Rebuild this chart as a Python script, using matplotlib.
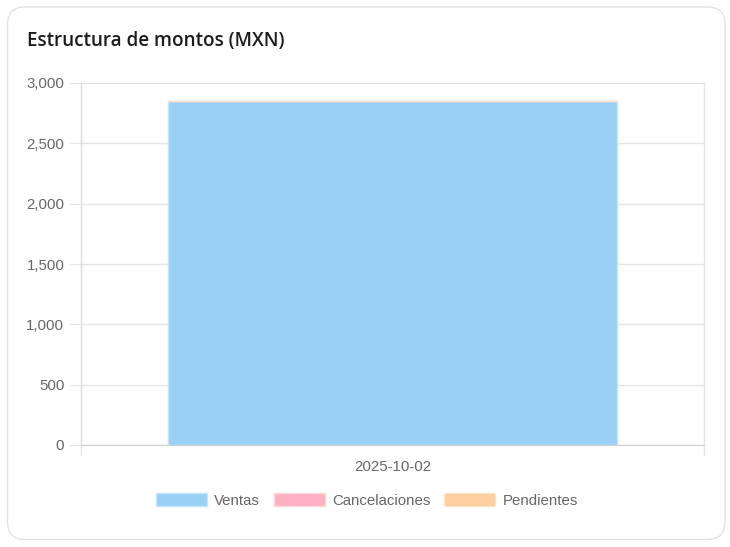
import matplotlib.pyplot as plt
from matplotlib.patches import FancyBboxPatch, Patch
from matplotlib.ticker import FuncFormatter, MultipleLocator

# data
fechas = ['2025-10-02']
series = ['Ventas', 'Cancelaciones', 'Pendientes']
ventas = [2850]
cancelaciones = [0]
pendientes = [0]
colores = ['#9ad0f5', '#ffb1c1', '#ffcf9f']
bordes = ['#c7e4fa', '#ffd6df', '#ffe3c6']

W, H = 730, 547
fig = plt.figure(figsize=(W / 100, H / 100), dpi=100)
fig.patch.set_facecolor('white')

# card background
card = FancyBboxPatch((7.5 / W, 7.5 / H), (725 - 7.5) / W, (540 - 7.5) / H,
                      boxstyle='round,pad=0,rounding_size=0.024',
                      transform=fig.transFigure, facecolor='white',
                      edgecolor='#e3e3e3', linewidth=1.0, mutation_aspect=W / H,
                      zorder=-5)
fig.patches.append(card)

fig.text(27 / W, 1 - 41 / H, 'Estructura de montos (MXN)', fontsize=13.6,
         fontweight='semibold', family=['Open Sans', 'DejaVu Sans'],
         color='#1c1c1c', ha='left', va='center')

ax = fig.add_axes([81 / W, 1 - 445 / H, (704 - 81) / W, (445 - 83) / H])
ax.set_facecolor('none')

x = list(range(len(fechas)))
bottom = [0] * len(fechas)
for vals, c, b in zip([ventas, cancelaciones, pendientes], colores, bordes):
    ax.bar(x, vals, width=0.72, bottom=bottom, color=c, edgecolor=b,
           linewidth=1, zorder=3)
    bottom = [p + q for p, q in zip(bottom, vals)]

ax.set_xlim(-0.5, len(fechas) - 0.5)
ax.set_ylim(0, 3000)
ax.yaxis.set_major_locator(MultipleLocator(500))
ax.yaxis.set_major_formatter(FuncFormatter(lambda v, p: f'{int(v):,}'))
ax.set_xticks(x)
ax.set_xticklabels(fechas)

ax.grid(axis='y', color='#e5e5e5', linewidth=1, zorder=0)
for s in ['top', 'right']:
    ax.spines[s].set_visible(False)
ax.spines['left'].set_color('#dcdcdc')
ax.spines['bottom'].set_color('#cfcfcf')
ax.tick_params(axis='y', length=8, color='#e5e5e5', labelcolor='#666666',
               labelsize=10.8, pad=4)
ax.tick_params(axis='x', length=0, labelcolor='#666666', labelsize=10.8, pad=11)
for lab in ax.get_xticklabels() + ax.get_yticklabels():
    lab.set_family(['Liberation Sans', 'DejaVu Sans'])

# category boundary lines (chart.js offset grid)
for xb in [-0.5 + i for i in range(len(fechas) + 1)]:
    ax.plot([xb, xb], [-0.028, 1], transform=ax.get_xaxis_transform(),
            color='#e5e5e5', linewidth=1, clip_on=False, zorder=1)

handles = [Patch(facecolor=c, edgecolor=b, label=s)
           for s, c, b in zip(series, colores, bordes)]
leg = fig.legend(handles=handles, loc='center', ncol=3,
                 bbox_to_anchor=(367 / W, 1 - 500.5 / H), frameon=False,
                 handlelength=3.4, handleheight=0.95, handletextpad=0.5,
                 columnspacing=0.9, prop={'family': 'Liberation Sans', 'size': 10.8})
for t in leg.get_texts():
    t.set_color('#666666')

fig.savefig('out.png', dpi=100)
